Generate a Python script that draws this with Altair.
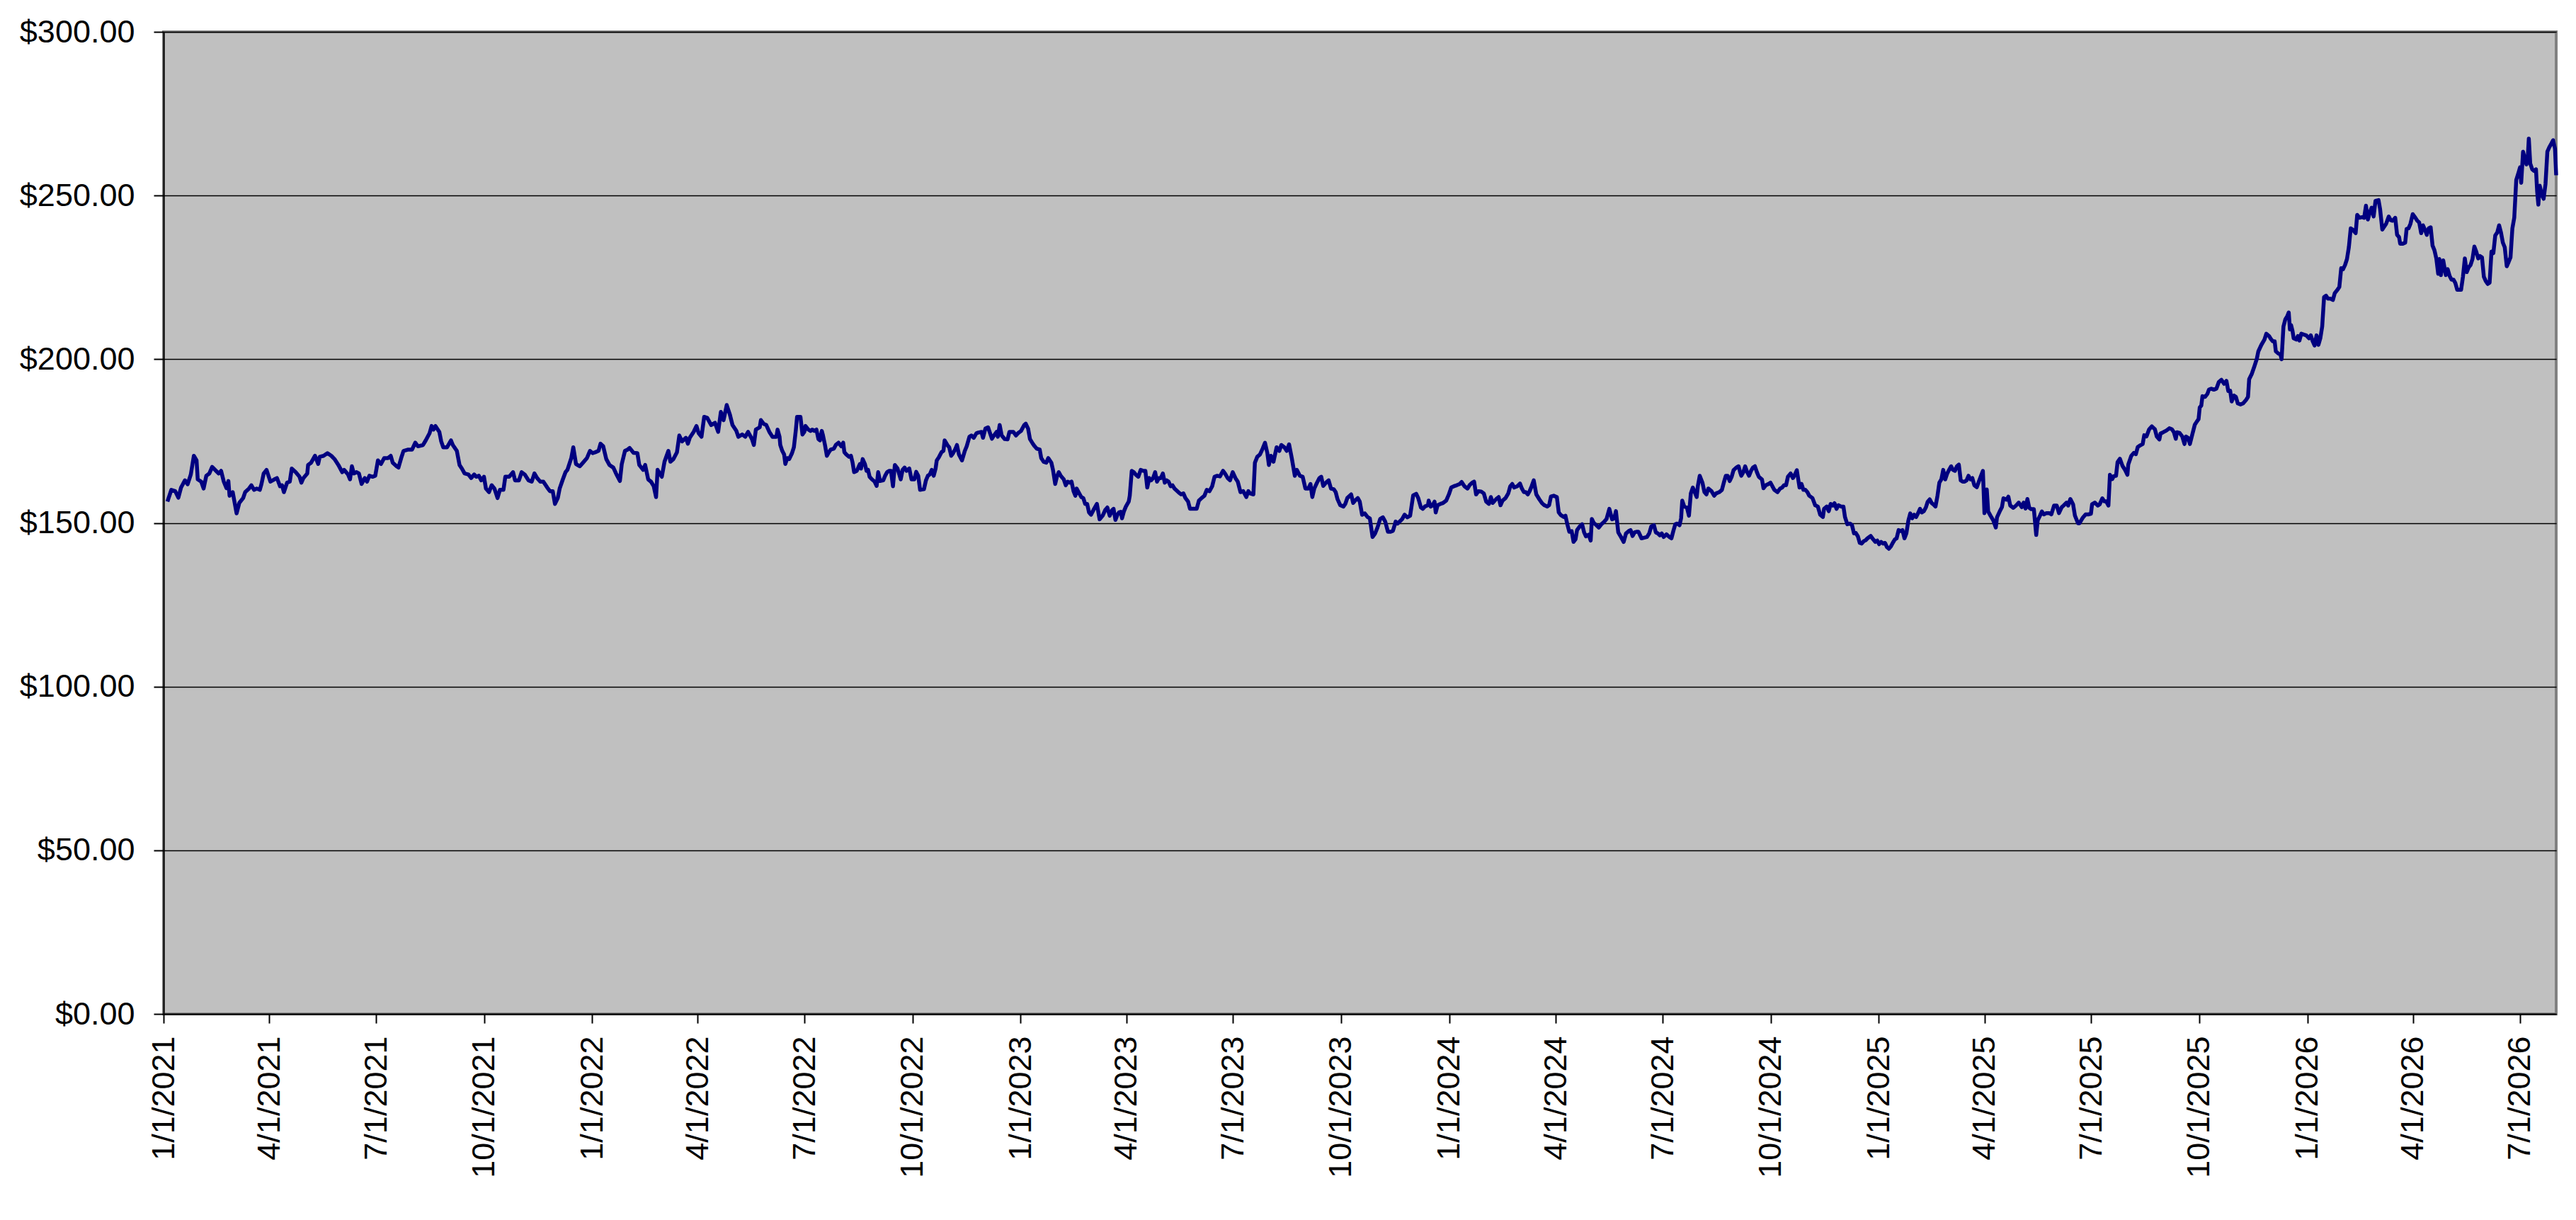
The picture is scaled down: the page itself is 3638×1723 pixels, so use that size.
import altair as alt
import pandas as pd

# ---------------- data ----------------
START = "2021-01-01"
END = "2026-08-01"

# days since 2021-01-01 and closing price, segment 1: Jan 2021 - Jun 2022
days_a = [3.3, 6.6, 9.9, 12.6, 14.9, 18.2, 20.5, 23.2, 25.8, 28.1,
          29.1, 32.1, 34.1, 36.4, 39.0, 41.4, 44.7, 47.0, 49.0, 51.3,
          53.6, 55.2, 56.2, 58.9, 62.2, 64.5, 67.8, 69.5, 72.8, 74.8,
          77.1, 79.4, 82.0, 83.4, 85.3, 87.7, 91.0, 94.3, 96.6, 99.2,
          100.9, 102.5, 105.2, 107.5, 109.2, 112.5, 115.8, 117.4, 119.1, 122.4,
          123.1, 125.7, 129.0, 131.7, 133.0, 136.3, 139.6, 142.9, 145.6, 148.9,
          152.2, 153.8, 157.1, 158.8, 160.4, 162.1, 164.4, 166.4, 168.7, 171.4,
          173.3, 175.3, 178.0, 180.3, 182.6, 185.2, 187.9, 191.2, 193.5, 195.2,
          198.5, 200.1, 202.4, 204.4, 208.4, 211.7, 214.4, 216.7, 221.0, 223.3,
          226.6, 228.3, 229.9, 231.6, 234.9, 236.5, 238.2, 241.5, 244.8, 246.4,
          249.8, 252.1, 254.1, 256.4, 259.7, 262.0, 264.6, 266.3, 268.6, 270.6,
          272.9, 274.6, 277.2, 279.5, 281.8, 284.5, 286.5, 289.5, 291.1, 294.4,
          297.7, 299.4, 302.7, 305.0, 307.6, 310.9, 313.6, 315.9, 318.2, 320.9,
          323.5, 326.8, 329.1, 331.5, 333.4, 335.8, 337.4, 340.1, 342.4, 344.0,
          347.3, 349.0, 351.3, 354.6, 357.3, 360.6, 363.2, 365.5, 367.8, 370.5,
          372.2, 374.5, 377.1, 379.8, 383.1, 385.4, 388.7, 390.3, 393.0, 395.3,
          397.0, 400.3, 403.6, 405.2, 408.5, 410.2, 412.8, 415.2, 417.5, 419.5,
          420.8, 424.4, 426.7, 430.0, 431.7, 434.3, 437.3, 439.3, 441.6, 444.9,
          446.6, 448.2, 451.5, 453.9, 455.8, 458.2, 460.5, 463.1, 466.4, 469.7,
          472.4, 474.7, 477.0, 479.7, 482.3, 484.6, 487.9, 489.6, 492.9, 495.5,
          497.9, 501.2, 502.8, 504.5, 507.8, 508.8, 511.1, 513.4, 516.0, 518.7]
price_a = [156.5, 160.1, 159.7, 157.7, 160.8, 163.0, 161.8, 164.8, 170.5, 169.1,
           163.3, 162.6, 160.5, 164.4, 165.1, 167.1, 165.9, 165.1, 165.9, 162.6,
           160.6, 162.8, 158.3, 159.4, 152.9, 156.1, 157.6, 159.4, 160.5, 161.5,
           160.1, 160.5, 160.1, 161.9, 165.1, 166.2, 162.6, 163.3, 163.7, 161.2,
           161.5, 159.4, 162.3, 162.6, 166.6, 165.5, 164.1, 162.3, 163.7, 165.1,
           167.7, 168.4, 170.5, 168.0, 170.2, 170.5, 171.3, 170.5, 169.5, 167.7,
           165.5, 166.2, 164.8, 163.3, 167.3, 165.1, 165.5, 165.1, 161.9, 163.7,
           162.6, 164.4, 164.1, 164.4, 169.1, 168.0, 169.8, 169.8, 170.5, 168.4,
           167.3, 166.9, 169.8, 172.0, 172.4, 172.4, 174.5, 173.4, 173.8, 175.2,
           177.4, 179.6, 178.5, 179.6, 177.8, 174.9, 173.1, 173.1, 175.2, 173.8,
           172.0, 167.7, 166.6, 165.1, 164.8, 163.7, 164.8, 164.1, 164.4, 163.0,
           164.1, 160.5, 159.4, 161.5, 160.5, 157.6, 160.1, 160.1, 164.1, 164.1,
           165.5, 163.0, 163.0, 165.5, 164.8, 163.0, 162.6, 165.1, 163.7, 162.6,
           162.6, 160.8, 159.7, 159.7, 155.8, 157.6, 160.5, 163.3, 165.5, 166.2,
           169.8, 173.1, 168.0, 167.3, 168.4, 169.8, 172.0, 171.3, 171.6, 172.0,
           174.2, 173.4, 169.5, 167.7, 166.9, 165.1, 162.8, 168.0, 172.0, 172.4,
           172.9, 171.4, 171.3, 167.7, 166.2, 167.7, 163.3, 162.6, 161.2, 157.9,
           166.2, 164.1, 168.7, 172.0, 168.7, 169.5, 171.6, 176.7, 174.9, 176.0,
           174.2, 176.0, 177.8, 179.6, 177.4, 176.3, 182.4, 182.1, 179.9, 180.6,
           177.8, 183.9, 181.4, 186.0, 183.2, 179.9, 178.1, 176.3, 177.0, 176.3,
           177.8, 175.6, 173.8, 178.5, 179.2, 181.4, 180.3, 179.9, 177.8, 176.3]

# segment 2: Jun 2022 - Oct 2023
days_b = [522.0, 523.0, 524.7, 525.3, 527.0, 528.6, 529.6, 531.3, 532.9, 535.3,
          536.9, 538.6, 539.6, 542.5, 544.2, 545.8, 546.8, 549.2, 551.1, 552.5,
          554.4, 556.1, 557.8, 559.1, 560.7, 561.7, 563.4, 565.0, 566.7, 568.3,
          571.0, 572.6, 574.9, 577.3, 578.9, 579.9, 581.6, 583.9, 585.5, 586.9,
          588.2, 590.5, 592.2, 593.1, 594.1, 595.5, 597.4, 598.8, 600.1, 601.4,
          603.4, 605.7, 607.4, 608.7, 610.3, 613.0, 614.6, 616.3, 618.0, 619.6,
          621.3, 622.9, 625.2, 627.9, 629.5, 631.2, 632.8, 635.2, 637.1, 639.5,
          641.1, 642.8, 644.4, 647.7, 649.4, 651.0, 652.7, 654.3, 656.0, 657.6,
          658.6, 660.3, 662.6, 664.3, 665.3, 667.6, 669.2, 670.9, 672.5, 674.2,
          675.8, 677.5, 680.1, 682.5, 684.1, 686.4, 688.1, 690.1, 692.4, 694.0,
          696.7, 698.0, 700.0, 702.3, 704.0, 705.6, 707.3, 709.6, 710.6, 712.2,
          713.9, 716.5, 718.9, 720.5, 723.8, 726.1, 727.8, 730.4, 733.1, 734.4,
          736.4, 738.0, 740.4, 742.0, 743.7, 746.3, 747.6, 749.6, 751.9, 753.6,
          756.2, 757.6, 759.5, 760.9, 762.5, 764.2, 766.8, 768.5, 770.1, 771.8,
          773.4, 775.1, 776.7, 777.7, 779.4, 781.7, 783.4, 785.0, 786.7, 788.3,
          790.0, 792.6, 795.0, 797.3, 799.9, 802.2, 803.9, 805.9, 808.2, 809.2,
          810.8, 812.5, 813.8, 815.4, 816.4, 818.1, 819.7, 822.1, 823.0, 824.7,
          826.4, 828.0, 830.3, 832.3, 834.6, 836.3, 837.9, 839.6, 841.2, 842.9,
          844.6, 846.2, 847.9, 849.5, 851.2, 852.8, 854.5, 856.1, 857.8, 859.4,
          861.1, 864.4, 866.7, 868.7, 870.4, 872.7, 874.3, 877.6, 880.0, 881.9,
          884.2, 886.6, 888.6, 890.9, 893.2, 895.2, 897.5, 899.8, 902.4, 904.1,
          906.4, 908.4, 910.7, 913.0, 915.0, 917.3, 919.7, 922.3, 924.0, 925.6,
          928.3, 929.6, 931.6, 933.9, 936.2, 938.2, 940.2, 941.5, 943.2, 945.4,
          948.1, 950.4, 952.1, 954.7, 956.7, 958.7, 961.0, 963.6, 965.3, 967.9,
          970.3, 972.6, 975.2, 976.9, 978.5, 980.2, 982.5, 984.5, 986.1, 987.8,
          990.1, 992.4, 994.4, 996.7, 998.4, 1000.0, 1002.3, 1005.0, 1006.6, 1008.3,
          1011.6, 1013.3, 1014.9, 1017.2, 1018.9, 1020.9, 1023.2, 1025.5, 1027.5, 1029.8]
price_b = [176.3, 178.5, 176.3, 173.8, 172.0, 170.9, 168.0, 169.8, 169.5, 171.3,
           173.1, 178.5, 182.4, 182.4, 177.0, 177.8, 179.6, 178.5, 178.1, 178.5,
           178.1, 178.5, 175.6, 175.2, 178.1, 176.7, 173.8, 170.5, 171.6, 172.4,
           172.7, 173.8, 174.5, 173.4, 174.5, 171.6, 170.9, 170.2, 170.5, 168.4,
           165.5, 165.9, 167.3, 168.0, 166.6, 169.5, 168.0, 165.9, 166.2, 164.1,
           163.3, 162.6, 161.3, 165.5, 162.8, 163.0, 164.4, 165.5, 165.9, 165.9,
           161.2, 167.7, 166.6, 163.3, 166.2, 166.9, 165.9, 166.6, 163.3, 163.3,
           165.6, 164.4, 160.1, 160.3, 163.0, 164.4, 164.8, 166.2, 164.4, 166.6,
           169.1, 170.0, 171.6, 172.0, 175.2, 173.8, 173.1, 170.5, 171.3, 172.4,
           173.8, 170.9, 169.1, 172.0, 173.4, 176.3, 176.7, 176.0, 177.4, 177.6,
           177.8, 176.0, 178.8, 179.2, 177.4, 175.7, 176.7, 177.8, 176.3, 179.9,
           176.7, 175.6, 175.5, 177.8, 177.8, 176.7, 177.4, 178.1, 179.9, 180.3,
           178.8, 175.6, 174.2, 173.4, 172.7, 172.4, 169.8, 168.7, 168.4, 169.8,
           168.4, 166.2, 161.9, 164.1, 165.5, 164.4, 163.3, 161.5, 162.6, 162.3,
           162.6, 159.7, 158.3, 160.5, 159.4, 157.9, 157.6, 155.8, 155.8, 153.2,
           152.5, 154.3, 155.8, 151.1, 152.2, 154.0, 154.7, 152.2, 154.0, 154.3,
           150.9, 152.5, 153.2, 153.4, 151.4, 153.6, 155.0, 156.5, 158.3, 165.9,
           165.5, 164.8, 164.1, 166.2, 165.9, 165.9, 160.8, 163.7, 163.0, 163.7,
           165.5, 162.6, 163.7, 163.7, 165.1, 162.3, 163.0, 162.6, 161.2, 161.5,
           160.5, 159.4, 158.7, 159.0, 157.6, 156.5, 154.3, 154.3, 154.3, 156.8,
           157.6, 158.3, 160.1, 159.7, 161.2, 164.1, 164.4, 164.2, 165.9, 165.1,
           163.7, 163.0, 165.5, 163.7, 162.6, 159.4, 159.7, 157.9, 159.7, 159.0,
           158.7, 168.4, 170.2, 170.9, 172.7, 174.5, 171.3, 167.7, 170.5, 168.7,
           173.1, 172.0, 173.8, 173.1, 172.0, 174.0, 169.8, 164.4, 166.2, 164.4,
           164.1, 160.5, 160.5, 161.9, 157.9, 160.5, 162.3, 163.7, 164.1, 161.3,
           162.3, 163.0, 160.5, 160.3, 159.4, 157.2, 155.4, 155.0, 155.8, 157.6,
           158.7, 156.1, 156.8, 157.6, 156.5, 152.5, 152.9, 151.8, 151.4, 145.7]

# segment 3: Oct 2023 - Mar 2025
days_c = [1032.0, 1034.0, 1036.3, 1038.6, 1040.6, 1042.9, 1045.2, 1047.2, 1049.5, 1051.2,
          1052.8, 1055.1, 1057.1, 1059.4, 1061.8, 1064.4, 1067.0, 1068.7, 1071.0, 1072.7,
          1074.3, 1077.0, 1077.6, 1079.3, 1081.0, 1082.6, 1083.6, 1085.2, 1087.6, 1089.9,
          1092.5, 1094.8, 1096.8, 1099.1, 1101.5, 1104.1, 1105.7, 1108.1, 1110.7, 1112.4,
          1114.7, 1116.3, 1118.0, 1120.0, 1122.3, 1124.6, 1126.6, 1128.9, 1130.6, 1132.2,
          1134.9, 1137.2, 1138.8, 1140.5, 1143.1, 1145.4, 1147.1, 1148.8, 1150.4, 1153.1,
          1155.4, 1157.0, 1158.7, 1160.3, 1162.0, 1163.6, 1165.3, 1167.1, 1169.3, 1171.9,
          1174.2, 1176.2, 1178.5, 1180.2, 1181.8, 1184.1, 1186.8, 1188.4, 1190.1, 1192.7,
          1194.1, 1195.7, 1197.4, 1199.4, 1201.0, 1202.7, 1204.0, 1206.0, 1208.3, 1210.0,
          1211.6, 1213.9, 1215.6, 1216.6, 1218.2, 1220.5, 1222.5, 1224.8, 1227.2, 1229.1,
          1231.5, 1233.8, 1235.7, 1237.1, 1239.1, 1241.4, 1243.7, 1245.7, 1248.0, 1249.6,
          1251.3, 1253.0, 1254.6, 1256.3, 1258.9, 1261.2, 1263.5, 1265.5, 1267.2, 1269.5,
          1271.1, 1272.8, 1274.5, 1276.1, 1277.8, 1280.1, 1282.7, 1284.4, 1286.0, 1287.7,
          1289.3, 1291.3, 1292.6, 1293.6, 1295.3, 1297.6, 1299.3, 1300.9, 1302.6, 1304.2,
          1305.9, 1306.9, 1308.5, 1310.8, 1312.5, 1314.2, 1315.8, 1318.5, 1320.8, 1322.4,
          1325.1, 1327.4, 1329.0, 1330.7, 1332.3, 1334.0, 1335.7, 1337.3, 1339.6, 1341.6,
          1342.9, 1343.9, 1345.6, 1347.2, 1348.9, 1350.5, 1352.2, 1353.8, 1355.5, 1357.2,
          1358.8, 1361.5, 1362.8, 1364.8, 1367.1, 1368.7, 1370.4, 1372.0, 1374.7, 1377.0,
          1378.7, 1380.3, 1382.0, 1383.6, 1385.9, 1387.9, 1389.6, 1391.2, 1393.5, 1395.2,
          1396.8, 1398.5, 1400.2, 1401.8, 1404.5, 1406.8, 1409.1, 1411.1, 1413.4, 1414.4,
          1416.7, 1418.4, 1420.0, 1421.7, 1423.3, 1425.0, 1426.6, 1428.9, 1430.9, 1432.2,
          1434.2, 1436.5, 1438.2, 1439.9, 1441.5, 1443.2, 1444.8, 1446.5, 1448.1, 1449.8,
          1451.4, 1454.1, 1456.4, 1458.0, 1459.7, 1461.3, 1463.0, 1464.7, 1466.3, 1468.0,
          1469.6, 1471.3, 1472.9, 1474.6, 1476.2, 1477.9, 1479.5, 1481.2, 1482.9, 1484.5,
          1486.2, 1487.8, 1489.5, 1491.1, 1492.8, 1494.4, 1496.1, 1497.7, 1499.4, 1501.1,
          1502.7, 1504.4, 1506.0, 1507.7, 1509.3, 1511.0, 1512.6, 1514.3, 1515.9, 1517.6,
          1519.3, 1520.9, 1522.6, 1524.2, 1525.9, 1527.5, 1529.2, 1530.8, 1532.5, 1534.1,
          1535.8, 1537.4, 1539.1, 1540.7, 1542.4]
price_c = [146.8, 148.6, 151.2, 151.7, 150.4, 147.3, 147.3, 147.6, 150.4, 149.8,
           150.4, 151.2, 152.5, 151.7, 152.2, 158.4, 158.9, 157.6, 154.7, 154.3,
           155.0, 155.4, 156.8, 155.0, 155.4, 156.5, 153.2, 155.4, 155.8, 156.1,
           156.8, 158.7, 160.8, 161.2, 161.5, 161.9, 162.5, 161.2, 160.5, 161.5,
           162.3, 162.6, 158.7, 159.7, 159.6, 159.0, 156.5, 155.8, 157.9, 156.1,
           157.2, 157.9, 155.4, 156.8, 157.6, 159.0, 161.2, 161.9, 160.8, 161.2,
           162.0, 160.5, 159.4, 159.4, 158.7, 159.7, 161.2, 163.0, 158.7, 157.2,
           156.0, 155.4, 155.0, 155.4, 158.1, 158.3, 157.9, 153.2, 152.4, 151.8,
           152.2, 149.6, 147.3, 147.5, 144.2, 145.0, 147.8, 148.8, 149.6, 147.1,
           145.9, 146.4, 144.6, 151.2, 150.0, 149.3, 148.6, 149.6, 150.4, 151.2,
           154.3, 151.1, 151.4, 153.6, 147.1, 145.7, 144.2, 146.8, 147.5, 147.8,
           146.0, 147.1, 147.3, 147.3, 145.3, 145.5, 145.7, 146.8, 148.9, 149.3,
           147.1, 146.8, 146.2, 146.8, 145.7, 146.5, 145.7, 145.3, 147.5, 149.6,
           149.8, 149.3, 151.4, 156.8, 155.0, 154.7, 152.2, 159.0, 160.8, 159.4,
           157.9, 161.3, 164.4, 162.3, 159.4, 158.7, 160.5, 159.7, 158.3, 159.0,
           159.4, 160.1, 162.3, 164.4, 164.4, 162.8, 164.1, 166.1, 166.9, 167.3,
           165.5, 164.4, 165.5, 167.3, 165.5, 164.4, 165.9, 166.9, 167.3, 165.5,
           164.1, 163.3, 160.6, 161.5, 161.9, 162.3, 161.2, 160.1, 159.4, 160.5,
           160.8, 161.5, 161.5, 164.1, 165.1, 163.7, 164.8, 166.1, 160.8, 161.9,
           160.1, 160.1, 159.4, 158.3, 157.6, 155.4, 155.0, 152.5, 151.8, 154.3,
           155.0, 153.6, 155.8, 155.3, 156.0, 154.3, 155.4, 155.0, 155.0, 151.8,
           149.6, 149.8, 149.3, 146.8, 146.9, 145.9, 143.9, 143.7, 144.4, 144.7,
           145.3, 146.0, 144.9, 144.2, 144.6, 143.5, 144.2, 143.7, 143.9, 142.6,
           142.1, 142.8, 143.9, 144.9, 145.3, 147.8, 147.5, 147.8, 145.3, 146.8,
           150.7, 152.9, 151.4, 152.5, 151.8, 152.9, 154.3, 153.2, 153.6, 154.7,
           156.5, 157.2, 156.1, 155.6, 155.0, 158.3, 162.3, 163.3, 166.2, 163.3,
           165.1, 166.2, 167.3, 166.2, 165.9, 167.3, 167.8, 163.0, 162.6, 162.6,
           163.0, 164.4, 163.3, 163.7, 161.5]

# segment 4: Mar 2025 - Jul 2026
days_d = [1544.5, 1546.5, 1549.7, 1551.0, 1553.0, 1554.2, 1556.2, 1558.5, 1560.7, 1561.7,
          1564.0, 1565.9, 1567.2, 1569.8, 1571.4, 1573.0, 1575.6, 1577.9, 1580.2, 1582.8,
          1584.4, 1586.0, 1587.6, 1589.2, 1590.9, 1593.1, 1595.1, 1596.4, 1598.3, 1599.9,
          1601.6, 1603.8, 1606.1, 1608.0, 1610.3, 1612.6, 1614.5, 1616.8, 1618.4, 1621.0,
          1622.3, 1624.2, 1626.5, 1628.1, 1630.7, 1632.0, 1634.6, 1637.2, 1639.5, 1641.7,
          1642.7, 1645.0, 1647.6, 1649.2, 1651.4, 1653.1, 1654.7, 1656.6, 1657.9, 1659.9,
          1661.2, 1663.1, 1664.4, 1666.4, 1668.6, 1670.9, 1672.8, 1673.5, 1676.1, 1678.3,
          1680.0, 1681.6, 1683.8, 1685.8, 1687.1, 1689.0, 1691.3, 1693.6, 1696.2, 1697.8,
          1700.0, 1701.0, 1703.3, 1705.9, 1708.5, 1710.7, 1712.4, 1714.0, 1715.0, 1717.2,
          1719.5, 1721.4, 1722.7, 1724.7, 1726.0, 1727.9, 1730.2, 1731.8, 1733.4, 1734.4,
          1735.7, 1736.7, 1738.9, 1740.9, 1742.2, 1744.1, 1746.4, 1748.6, 1750.6, 1752.9,
          1755.1, 1757.1, 1758.7, 1760.3, 1761.6, 1763.6, 1765.2, 1766.8, 1769.1, 1771.3,
          1773.9, 1775.5, 1776.5, 1778.8, 1781.0, 1783.0, 1784.3, 1786.9, 1789.5, 1791.1,
          1793.4, 1795.0, 1796.6, 1798.2, 1799.2, 1801.5, 1803.1, 1804.1, 1805.7, 1807.3,
          1808.9, 1810.2, 1811.2, 1812.2, 1813.4, 1814.4, 1816.7, 1818.0, 1819.3, 1820.9,
          1823.2, 1825.1, 1827.4, 1829.0, 1830.6, 1832.2, 1833.9, 1835.5, 1837.1, 1838.7,
          1840.3, 1842.0, 1843.6, 1845.8, 1847.8, 1849.4, 1851.7, 1853.3, 1854.9, 1856.5,
          1858.2, 1859.8, 1861.4, 1863.0, 1864.6, 1867.2, 1868.5, 1870.5, 1872.7, 1874.4,
          1876.0, 1877.6, 1879.2, 1880.8, 1882.5, 1884.1, 1886.7, 1888.0, 1889.9, 1891.5,
          1893.2, 1895.4, 1897.0, 1898.7, 1900.9, 1902.5, 1904.2, 1905.1, 1907.4, 1909.4,
          1910.6, 1912.3, 1913.9, 1915.8, 1918.1, 1919.7, 1921.3, 1923.0, 1924.6, 1926.2,
          1927.8, 1929.4, 1931.1, 1932.7, 1934.3, 1935.9, 1937.5, 1938.5, 1939.8, 1941.8,
          1944.0, 1945.6, 1947.3, 1948.9, 1950.5, 1952.1, 1953.7, 1955.4, 1957.0, 1958.6,
          1960.2, 1961.8, 1963.5, 1965.1, 1966.7, 1968.3, 1969.9, 1971.6, 1973.2, 1974.8,
          1976.4, 1978.0, 1979.7, 1981.3, 1982.9, 1984.5, 1986.1, 1987.8, 1989.4, 1991.0,
          1992.6, 1994.2, 1995.9, 1997.5, 1999.1, 2000.7, 2002.3, 2004.0, 2005.6, 2007.2,
          2008.2, 2009.8, 2011.1, 2012.7, 2013.7, 2014.7, 2015.9, 2017.6, 2019.2, 2020.8,
          2021.8, 2022.8, 2024.0, 2025.7, 2027.3, 2028.9, 2030.5, 2032.1, 2033.8, 2035.4,
          2037.0, 2038.0]
price_d = [160.9, 162.9, 165.9, 153.0, 160.2, 153.5, 152.2, 150.8, 148.6, 151.7,
           153.5, 154.8, 157.5, 157.1, 158.0, 155.3, 154.6, 155.3, 156.2, 154.8,
           156.2, 154.4, 157.3, 154.6, 154.2, 154.2, 146.3, 150.8, 152.2, 153.5,
           152.6, 153.0, 153.0, 152.6, 155.3, 155.3, 153.0, 154.8, 155.3, 156.2,
           155.3, 157.3, 155.7, 152.2, 149.9, 149.9, 151.5, 152.6, 152.6, 152.8,
           155.7, 156.2, 155.3, 155.7, 157.5, 156.6, 156.6, 155.3, 164.7, 163.4,
           164.3, 164.4, 168.6, 169.6, 167.4, 166.1, 164.7, 167.8, 170.5, 171.4,
           171.0, 173.2, 173.7, 174.1, 176.8, 176.4, 178.6, 179.5, 178.6, 176.4,
           175.5, 177.3, 177.7, 178.2, 178.9, 178.6, 177.7, 175.7, 177.7, 177.5,
           176.4, 174.1, 176.4, 175.9, 174.1, 176.8, 180.0, 180.9, 181.7, 185.3,
           185.8, 188.7, 188.5, 189.4, 190.7, 191.0, 190.7, 191.0, 193.0, 193.7,
           192.5, 193.4, 190.3, 190.4, 187.1, 188.9, 188.5, 186.5, 186.2, 186.5,
           187.6, 188.5, 193.9, 195.6, 197.9, 200.1, 202.4, 204.4, 206.0, 207.8,
           207.1, 206.2, 205.5, 205.5, 202.4, 201.7, 201.5, 200.0, 210.0, 212.2,
           213.1, 214.3, 209.1, 210.4, 208.7, 206.4, 206.0, 207.1, 205.7, 207.8,
           207.5, 207.3, 206.4, 207.3, 205.5, 204.2, 207.3, 204.4, 206.4, 210.0,
           219.0, 219.4, 218.5, 218.5, 218.1, 220.2, 221.2, 222.1, 227.8, 227.5,
           228.8, 230.6, 234.2, 240.0, 239.6, 238.5, 244.1, 243.2, 243.4, 243.2,
           246.9, 242.7, 244.8, 246.3, 243.6, 248.4, 248.6, 245.9, 239.6, 240.5,
           241.4, 243.6, 242.5, 242.3, 243.2, 238.0, 237.3, 235.3, 235.3, 235.6,
           239.8, 240.0, 241.4, 244.3, 243.2, 242.3, 241.8, 238.5, 240.9, 239.6,
           238.0, 240.0, 240.3, 234.7, 233.3, 230.8, 226.1, 230.6, 225.7, 230.2,
           225.7, 227.5, 225.4, 224.3, 224.3, 223.3, 221.2, 221.2, 221.2, 225.2,
           230.8, 226.6, 228.1, 228.8, 230.6, 234.4, 232.9, 230.8, 231.5, 231.1,
           225.2, 223.9, 223.0, 223.4, 232.9, 232.4, 237.8, 238.7, 240.9, 238.7,
           235.6, 234.2, 228.4, 229.7, 231.1, 240.0, 243.2, 254.8, 256.6, 258.6,
           253.9, 263.4, 261.6, 259.5, 261.1, 267.4, 259.8, 258.0, 257.5, 258.0,
           251.2, 247.2, 253.0, 250.4, 249.0, 253.5, 263.4, 264.7, 265.8, 266.9,
           264.3, 256.2]

tick_dates = ["2021-01-01", "2021-04-01", "2021-07-01", "2021-10-01",
              "2022-01-01", "2022-04-01", "2022-07-01", "2022-10-01",
              "2023-01-01", "2023-04-01", "2023-07-01", "2023-10-01",
              "2024-01-01", "2024-04-01", "2024-07-01", "2024-10-01",
              "2025-01-01", "2025-04-01", "2025-07-01", "2025-10-01",
              "2026-01-01", "2026-04-01", "2026-07-01"]
y_ticks = [0, 50, 100, 150, 200, 250, 300]

# ---------------- build table ----------------
for dd, pp, name in [(days_a, price_a, "a"), (days_b, price_b, "b"),
                     (days_c, price_c, "c"), (days_d, price_d, "d")]:
    assert len(dd) == len(pp), f"segment {name}: {len(dd)} vs {len(pp)}"

days = days_a + days_b + days_c + days_d
prices = price_a + price_b + price_c + price_d

EPOCH = pd.Timestamp("1970-01-01", tz="UTC")
start = pd.Timestamp(START, tz="UTC")


def to_ms(ts):
    return int((ts - EPOCH) / pd.Timedelta(milliseconds=1))


df = pd.DataFrame({
    "t": [to_ms(start + pd.Timedelta(days=d)) for d in days],
    "price": prices,
})
tick_ms = [to_ms(pd.Timestamp(d, tz="UTC")) for d in tick_dates]
domain_ms = [to_ms(pd.Timestamp(START, tz="UTC")), to_ms(pd.Timestamp(END, tz="UTC"))]

FONT = "Liberation Sans"

chart = alt.Chart(df).mark_line(
    color="#000080", strokeWidth=5.5, strokeJoin="round"
).encode(
    x=alt.X(
        "t:T",
        scale=alt.Scale(type="utc", domain=domain_ms, nice=False),
        axis=alt.Axis(
            values=tick_ms, format="%-m/%-d/%Y", labelAngle=-90,
            labelAlign="right", labelBaseline="middle", labelPadding=18,
            tickSize=13, grid=False, title=None, labelOverlap=False,
            labelFlush=False, labelLimit=0,
        ),
    ),
    y=alt.Y(
        "price:Q",
        scale=alt.Scale(domain=[0, 300], nice=False),
        axis=alt.Axis(
            values=y_ticks, format="$.2f", tickSize=14, labelPadding=27,
            grid=True, title=None, labelFlush=False, labelOverlap=False,
            labelLimit=0,
        ),
    ),
).properties(
    width=3379,
    height=1387,
    autosize=alt.AutoSizeParams(type="none"),
    padding={"left": 223, "top": 37, "right": 20, "bottom": 280},
).configure_view(
    fill="#C0C0C0", stroke="#808080", strokeWidth=4
).configure_axis(
    labelFont=FONT, labelFontSize=45, labelColor="#000000",
    domainColor="#000000", domainWidth=2,
    tickColor="#000000", tickWidth=2,
    gridColor="#000000", gridWidth=1.5,
)

chart.save("out.html", embed_options={"renderer": "svg", "actions": False})
